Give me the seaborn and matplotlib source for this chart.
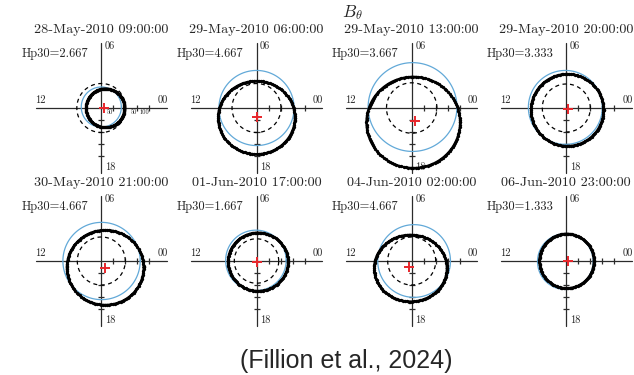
import numpy as np
import pandas as pd
import matplotlib
matplotlib.use("Agg")
import matplotlib.pyplot as plt
import seaborn as sns

sns.set_style("white")
plt.rcParams["mathtext.fontset"] = "cm"

# ---- panel data (units: 1 tick step on the dial) ----
times = ["28-May-2010 09:00:00", "29-May-2010 06:00:00", "29-May-2010 13:00:00",
         "29-May-2010 20:00:00", "30-May-2010 21:00:00", "01-Jun-2010 17:00:00",
         "04-Jun-2010 02:00:00", "06-Jun-2010 23:00:00"]
hp30 = ["2.667", "4.667", "3.667", "3.333", "4.667", "1.667", "4.667", "1.333"]

# reference (blue) circle
blue_cx = [0.00, 0.00, 0.07, -0.08, 0.02, -0.05, 0.20, -0.08]
blue_cy = [0.08, 0.00, 0.08, 0.05, 0.00, 0.05, 0.00, -0.05]
blue_r = [1.67, 3.13, 3.70, 3.08, 3.22, 2.52, 3.03, 2.32]

# fitted (black) oval
black_cx = [0.33, 0.00, 0.13, 0.08, 0.33, 0.13, -0.10, 0.03]
black_cy = [0.00, -0.80, -1.20, -0.17, -0.54, -0.07, -0.60, 0.00]
black_rx = [1.60, 3.20, 3.90, 3.02, 3.20, 2.50, 3.03, 2.27]
black_ry = [1.62, 3.05, 3.80, 3.00, 3.12, 2.43, 2.78, 2.27]

# dashed circle radius and centre markers
dashed_r = [2.04, 2.04, 2.10, 2.00, 2.00, 1.85, 2.00, 2.27]
cross_x = [0.25, 0.00, 0.27, 0.10, 0.28, 0.05, -0.22, 0.10]
cross_y = [0.00, -0.78, -1.05, -0.10, -0.55, -0.05, -0.47, 0.00]

tick_pos = [1, 2, 3, 4]

# ---- layout ----
W, H = 634, 375
PX = 12.0  # pixels per unit
col_cx = [101.3, 256.5, 411.7, 566.3]
row_cy = [108.0, 261.0]
half = 75.0

fig = plt.figure(figsize=(W / 100, H / 100), dpi=100)

BLUE = "#62a9d8"
SERIF = "cmr10"
ARM = 5.45
theta = np.linspace(0, 2 * np.pi, 121)


def ring(cx, cy, rx, ry):
    return pd.DataFrame({"x": cx + rx * np.cos(theta), "y": cy + ry * np.sin(theta)})


for i in range(8):
    r, c = divmod(i, 4)
    cx, cy = col_cx[c], row_cy[r]
    ax = fig.add_axes([(cx - half) / W, 1 - (cy + half) / H, 2 * half / W, 2 * half / H])
    lim = half / PX
    ax.set_xlim(-lim, lim)
    ax.set_ylim(-lim, lim)
    ax.set_aspect("equal")
    ax.axis("off")

    # dial axes
    ax.plot([-ARM, ARM], [0, 0], color="#2b2b2b", lw=0.9, zorder=1)
    ax.plot([0, 0], [-ARM, ARM], color="#2b2b2b", lw=0.9, zorder=1)
    ax.plot(tick_pos, [0] * 4, ls="none", marker="|", ms=4.5, mew=0.9, color="#2b2b2b", zorder=1)
    ax.plot([0] * 4, [-t for t in tick_pos], ls="none", marker="_", ms=4.5, mew=0.9, color="#2b2b2b", zorder=1)

    d = ring(0, 0, dashed_r[i], dashed_r[i])
    sns.lineplot(data=d, x="x", y="y", sort=False, estimator=None, ax=ax,
                 color="black", lw=0.9, linestyle=(0, (3.2, 2.8)), zorder=2)
    b = ring(blue_cx[i], blue_cy[i], blue_r[i], blue_r[i])
    sns.lineplot(data=b, x="x", y="y", sort=False, estimator=None, ax=ax,
                 color=BLUE, lw=0.9, zorder=3)
    k = ring(black_cx[i], black_cy[i], black_rx[i], black_ry[i])
    sns.lineplot(data=k, x="x", y="y", sort=False, estimator=None, ax=ax,
                 color="black", lw=1.6, marker="o", ms=2.4, mew=0, zorder=4)
    ax.plot([cross_x[i]], [cross_y[i]], marker="+", ms=7, mew=1.4, color="#e8262b", zorder=5)

    ax.set_xlabel("")
    ax.set_ylabel("")

    # labels
    ax.text(0, 78 / PX, times[i], ha="center", va="center", fontsize=10.2, family=SERIF)
    ax.text(-80 / PX, 4.5, f"Hp30={hp30[i]}", ha="left", va="center", fontsize=9.0, family=SERIF)
    ax.text(0.3, 5.17, "06", ha="left", va="center", fontsize=7.5, family=SERIF)
    ax.text(0.3, -4.9, "18", ha="left", va="center", fontsize=7.5, family=SERIF)
    ax.text(-5.1, 0.62, "12", ha="center", va="center", fontsize=7.5, family=SERIF)
    ax.text(5.1, 0.62, "00", ha="center", va="center", fontsize=7.5, family=SERIF)

    if i == 0:
        for xx, s in [(0.7, "50"), (2.7, "50"), (3.6, "100")]:
            ax.text(xx, -0.38, s, ha="center", va="center", fontsize=4.6, family=SERIF)

fig.text(352 / W, 1 - 13 / H, r"$B_\theta$", ha="center", va="center", fontsize=12.5)
fig.text(346 / W, 1 - 361 / H, "(Fillion et al., 2024)", ha="center", va="center",
         fontsize=18, family="Liberation Sans")

fig.savefig("out.png", dpi=100)
